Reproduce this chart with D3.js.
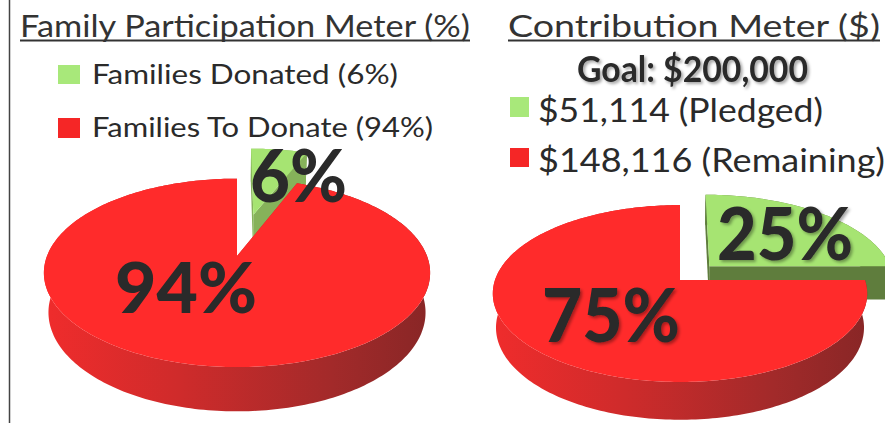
<!DOCTYPE html>
<html>
<head>
<meta charset="utf-8">
<script src="https://cdn.jsdelivr.net/npm/d3@7"></script>
<style>
html, body { margin: 0; padding: 0; background: #fff; }
svg { display: block; }
</style>
</head>
<body>
<div id="main"></div>
<script>
// ---- data ----
var titles = ["Family Participation Meter (%)", "Contribution Meter ($)"];
var participationNames = ["Families Donated (6%)", "Families To Donate (94%)"];
var participationValues = [6, 94];
var participationLabels = ["6%", "94%"];
var contributionGoal = "Goal: $200,000";
var contributionNames = ["$51,114 (Pledged)", "$148,116 (Remaining)"];
var contributionValues = [25, 75];
var contributionLabels = ["25%", "75%"];

// ---- styles ----
var topColors = ["#a6e472", "#ff2b2b"];
var legendColors = ["#a8e87a", "#f52626"];
var textColor = "#2a2a2a";

var width = 885, height = 423;

var svg = d3.select("#main").append("svg")
    .attr("width", width)
    .attr("height", height)
    .style("font-family", "Lato, 'Open Sans', sans-serif");

var defs = svg.append("defs");
var shadow = defs.append("filter").attr("id", "shadow")
    .attr("x", "-10%").attr("y", "-10%").attr("width", "130%").attr("height", "140%");
shadow.append("feDropShadow")
    .attr("dx", 2).attr("dy", 2).attr("stdDeviation", 1.5)
    .attr("flood-color", "#000").attr("flood-opacity", 0.35);

// left border line
svg.append("line")
    .attr("x1", 9.5).attr("x2", 9.5).attr("y1", 0).attr("y2", height)
    .attr("stroke", "#444").attr("stroke-width", 1.5);

// ---- pie layouts (3d perspective) ----
var pieLayouts = [
    {cx: 237, cy: 256, r: 190, dist: 4.9, tilt: Math.asin(0.48), depth: 0.24, explode: [0.5, 0],
     wallGreen: "#86b25a", id: "p0",
     labels: [{x: 250, y: 202, len: 97, size: 72, shadow: false},
              {x: 115, y: 313, len: 142, size: 70, shadow: false}]},
    {cx: 680, cy: 280, r: 185, dist: 5.78, tilt: Math.asin(0.467), depth: 0.21, explode: [0.23, 0],
     wallGreen: "#5f7d3d", id: "p1",
     labels: [{x: 717, y: 260, len: 136, size: 72, shadow: true},
              {x: 542, y: 342, len: 138, size: 74, shadow: true}]}
];

function drawPie(values, labels, cfg) {
    var pie = d3.pie().sort(null).value(d => d);
    var arcs = pie(values);
    var sinP = Math.sin(cfg.tilt), cosP = Math.cos(cfg.tilt);
    var F = cfg.r * cfg.dist;

    function proj(X, Z, H) {
        var d = cfg.dist - (H * sinP + Z * cosP);
        return [cfg.cx + X * F / d, cfg.cy - (H * cosP - Z * sinP) * F / d];
    }

    var grad = defs.append("linearGradient").attr("id", "wall" + cfg.id)
        .attr("gradientUnits", "userSpaceOnUse")
        .attr("x1", cfg.cx - cfg.r * 1.02).attr("x2", cfg.cx + cfg.r * 1.02)
        .attr("y1", 0).attr("y2", 0);
    grad.append("stop").attr("offset", "0%").attr("stop-color", "#f02c2c");
    grad.append("stop").attr("offset", "35%").attr("stop-color", "#cf2b2b");
    grad.append("stop").attr("offset", "75%").attr("stop-color", "#a22a2a");
    grad.append("stop").attr("offset", "100%").attr("stop-color", "#882626");

    var line = d3.line();
    var g = svg.append("g");

    var slices = arcs.map(function (a, i) {
        var mid = (a.startAngle + a.endAngle) / 2;
        var e = cfg.explode[i];
        return {arc: a, i: i, ox: e * Math.sin(mid), oz: -e * Math.cos(mid), zMid: -Math.cos(mid)};
    });
    slices.sort((a, b) => a.zMid - b.zMid);

    slices.forEach(function (s) {
        var a0 = s.arc.startAngle, a1 = s.arc.endAngle;
        var n = Math.max(8, Math.ceil((a1 - a0) / 0.02));
        var angles = d3.range(n + 1).map(k => a0 + (a1 - a0) * k / n);
        var rim = function (a, H) { return proj(s.ox + Math.sin(a), s.oz - Math.cos(a), H); };
        var topRim = angles.map(a => rim(a, 0));
        var botRim = angles.map(a => rim(a, -cfg.depth));
        var apexTop = proj(s.ox, s.oz, 0), apexBot = proj(s.ox, s.oz, -cfg.depth);
        var wallFill = s.i === 0 ? cfg.wallGreen : "url(#wall" + cfg.id + ")";

        // outer curved wall
        g.append("path")
            .attr("d", line(topRim.concat(botRim.slice().reverse())) + "Z")
            .attr("fill", wallFill);
        // cut faces
        [a0, a1].forEach(function (a) {
            g.append("path")
                .attr("d", line([apexTop, rim(a, 0), rim(a, -cfg.depth), apexBot]) + "Z")
                .attr("fill", wallFill);
        });
        // top face
        g.append("path")
            .attr("d", line([apexTop].concat(topRim)) + "Z")
            .attr("fill", topColors[s.i]);
    });

    cfg.labels.forEach(function (l, i) {
        g.append("text")
            .attr("x", l.x).attr("y", l.y)
            .attr("font-size", l.size)
            .attr("font-weight", 900)
            .attr("fill", textColor)
            .attr("textLength", l.len)
            .attr("lengthAdjust", "spacingAndGlyphs")
            .attr("filter", l.shadow ? "url(#shadow)" : null)
            .text(labels[i]);
    });
}

drawPie(participationValues, participationLabels, pieLayouts[0]);
drawPie(contributionValues, contributionLabels, pieLayouts[1]);

// ---- titles ----
var titleLayout = [{x: 20, y: 37, len: 450}, {x: 508, y: 37, len: 372}];
titles.forEach(function (t, i) {
    var L = titleLayout[i];
    svg.append("text")
        .attr("x", L.x).attr("y", L.y)
        .attr("font-size", 30)
        .attr("fill", "#333")
        .attr("textLength", L.len)
        .attr("lengthAdjust", "spacingAndGlyphs")
        .text(t);
    svg.append("line")
        .attr("x1", L.x).attr("x2", L.x + L.len)
        .attr("y1", L.y + 3.5).attr("y2", L.y + 3.5)
        .attr("stroke", "#333").attr("stroke-width", 2);
});

svg.append("text")
    .attr("x", 577).attr("y", 82)
    .attr("font-size", 36).attr("font-weight", 700)
    .attr("fill", textColor)
    .attr("textLength", 231).attr("lengthAdjust", "spacingAndGlyphs")
    .attr("filter", "url(#shadow)")
    .text(contributionGoal);

// ---- legends ----
var legendLayouts = [
    {sx: 58, sw: 22, tx: 92, size: 26, rows: [{sy: 65, sh: 19, ty: 84, len: 306}, {sy: 118, sh: 20, ty: 137, len: 341}]},
    {sx: 510, sw: 19, tx: 538, size: 33, rows: [{sy: 97, sh: 20, ty: 122, len: 285}, {sy: 148, sh: 19, ty: 172, len: 347}]}
];
[participationNames, contributionNames].forEach(function (names, k) {
    var L = legendLayouts[k];
    var items = svg.append("g").selectAll("g").data(names).enter().append("g");
    items.append("rect")
        .attr("x", L.sx).attr("y", (d, i) => L.rows[i].sy)
        .attr("width", L.sw).attr("height", (d, i) => L.rows[i].sh)
        .attr("fill", (d, i) => legendColors[i]);
    items.append("text")
        .attr("x", L.tx).attr("y", (d, i) => L.rows[i].ty)
        .attr("font-size", L.size)
        .attr("fill", textColor)
        .attr("textLength", (d, i) => L.rows[i].len)
        .attr("lengthAdjust", "spacingAndGlyphs")
        .text(d => d);
});
</script>
</body>
</html>
